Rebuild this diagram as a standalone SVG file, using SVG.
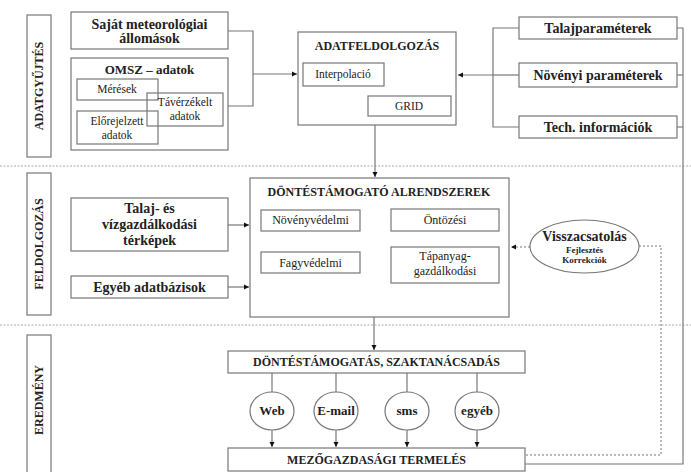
<svg xmlns="http://www.w3.org/2000/svg" width="691" height="472" viewBox="0 0 691 472">
<style>
.box{fill:#fff;stroke:#777;stroke-width:1.2}
.ln{fill:none;stroke:#777;stroke-width:1.2}
.dl{fill:none;stroke:#777;stroke-width:1;stroke-dasharray:2,2}
.sep{fill:none;stroke:#aaa;stroke-width:1;stroke-dasharray:2,1.5}
.t{font-family:"Liberation Serif","DejaVu Serif",serif;font-weight:bold;fill:#222;text-anchor:middle}
.b14{font-size:14px}
.b13{font-size:13px}
.b12{font-size:12px}
.s10{font-family:"Liberation Serif","DejaVu Serif",serif;font-size:11.5px;fill:#222;text-anchor:middle}
.s11{font-family:"Liberation Serif","DejaVu Serif",serif;font-size:12px;fill:#222;text-anchor:middle}
</style>
<defs>
<marker id="ah" markerWidth="6" markerHeight="6" refX="5" refY="3" orient="auto" markerUnits="userSpaceOnUse">
<path d="M0,0.5 L5,3 L0,5.5 Z" fill="#111"/>
</marker>
</defs>
<rect width="691" height="472" fill="#fff"/>

<g id="separators">
<line class="sep" x1="0" y1="166" x2="691" y2="166"/>
<line class="sep" x1="0" y1="325" x2="691" y2="325"/>
</g>

<g id="side-adatgyujtes">
<rect class="box" x="27" y="15" width="24" height="142"/>
<text class="t b12" transform="translate(43,86) rotate(-90)">ADATGYŰJTÉS</text>
</g>
<g id="side-feldolgozas">
<rect class="box" x="27" y="173" width="24" height="142"/>
<text class="t b12" transform="translate(43,244) rotate(-90)">FELDOLGOZÁS</text>
</g>
<g id="side-eredmeny">
<rect class="box" x="27" y="335" width="24" height="145"/>
<text class="t b12" transform="translate(43,400) rotate(-90)">EREDMÉNY</text>
</g>

<g id="connectors">
<polyline class="ln" points="228,31 253,31 253,106 228,106"/>
<line class="ln" x1="253" y1="74" x2="297" y2="74" marker-end="url(#ah)"/>
<polyline class="ln" points="519,28 493,28 493,127 519,127"/>
<line class="ln" x1="493" y1="75" x2="519" y2="75"/>
<line class="ln" x1="493" y1="75" x2="458" y2="75" marker-end="url(#ah)"/>
<polyline class="ln" points="677,28 683,28 683,464 525,464"/>
<line class="ln" x1="677" y1="75" x2="683" y2="75"/>
<line class="ln" x1="677" y1="127" x2="683" y2="127"/>
<line class="ln" x1="375" y1="125" x2="375" y2="177" marker-end="url(#ah)"/>
<line class="ln" x1="228" y1="225" x2="249" y2="225" marker-end="url(#ah)"/>
<line class="ln" x1="228" y1="287" x2="249" y2="287" marker-end="url(#ah)"/>
<line class="dl" x1="530" y1="247" x2="511" y2="247" marker-end="url(#ah)"/>
<polyline class="dl" points="639,246 661,246 661,455 525,455"/>
<line class="ln" x1="374" y1="317" x2="374" y2="350" marker-end="url(#ah)"/>
<line class="ln" x1="272" y1="373" x2="272" y2="392"/>
<line class="ln" x1="336" y1="373" x2="336" y2="392"/>
<line class="ln" x1="407" y1="373" x2="407" y2="392"/>
<line class="ln" x1="477" y1="373" x2="477" y2="392"/>
<line class="ln" x1="272" y1="430" x2="272" y2="447" marker-end="url(#ah)"/>
<line class="ln" x1="336" y1="430" x2="336" y2="447" marker-end="url(#ah)"/>
<line class="ln" x1="407" y1="430" x2="407" y2="447" marker-end="url(#ah)"/>
<line class="ln" x1="477" y1="430" x2="477" y2="447" marker-end="url(#ah)"/>
</g>

<g id="sajat">
<rect class="box" x="71" y="12" width="157" height="37"/>
<text class="t b14" x="149.5" y="29">Saját meteorológiai</text>
<text class="t b14" x="149.5" y="43">állomások</text>
</g>

<g id="omsz">
<rect class="box" x="71" y="58" width="157" height="92"/>
<text class="t b13" x="149.5" y="74">OMSZ – adatok</text>
</g>
<g id="meresek">
<rect class="box" x="77" y="79" width="81" height="21"/>
<text class="s10" x="117" y="93">Mérések</text>
</g>
<g id="elorejelzett">
<rect class="box" x="77" y="111" width="81" height="33"/>
<text class="s10" x="117" y="125">Előrejelzett</text>
<text class="s10" x="117" y="139">adatok</text>
</g>
<g id="taverzekelt">
<rect class="box" x="147" y="93" width="76" height="33" style="fill:none"/>
<text class="s10" x="185" y="106">Távérzékelt</text>
<text class="s10" x="185" y="120">adatok</text>
</g>

<g id="adatfeldolgozas">
<rect class="box" x="298" y="32" width="158" height="93"/>
<text class="t b12" x="377" y="50">ADATFELDOLGOZÁS</text>
</g>
<g id="interpolacio">
<rect class="box" x="303" y="63" width="81" height="23"/>
<text class="s10" x="343" y="78">Interpolació</text>
</g>
<g id="grid">
<rect class="box" x="368" y="96" width="83" height="20"/>
<text class="s10" x="409" y="110">GRID</text>
</g>

<g id="talajparameterek">
<rect class="box" x="519" y="17" width="158" height="22"/>
<text class="t b14" x="598" y="33">Talajparaméterek</text>
</g>
<g id="novenyi">
<rect class="box" x="519" y="63" width="158" height="24"/>
<text class="t b14" x="598" y="80">Növényi paraméterek</text>
</g>
<g id="tech">
<rect class="box" x="519" y="116" width="158" height="22"/>
<text class="t b14" x="598" y="132">Tech. információk</text>
</g>

<g id="talaj-viz">
<rect class="box" x="71" y="198" width="157" height="53"/>
<text class="t b14" x="149.5" y="213">Talaj- és</text>
<text class="t b14" x="149.5" y="229">vízgazdálkodási</text>
<text class="t b14" x="149.5" y="245">térképek</text>
</g>
<g id="egyeb-adatbazisok">
<rect class="box" x="71" y="276" width="157" height="22"/>
<text class="t b14" x="149.5" y="292">Egyéb adatbázisok</text>
</g>

<g id="dontestamogato">
<rect class="box" x="250" y="178" width="259" height="139"/>
<text class="t b12" x="379" y="196">DÖNTÉSTÁMOGATÓ ALRENDSZEREK</text>
</g>
<g id="novenyvedelmi">
<rect class="box" x="261" y="210" width="99" height="21"/>
<text class="s11" x="310.5" y="224">Növényvédelmi</text>
</g>
<g id="ontozesi">
<rect class="box" x="391" y="209" width="108" height="22"/>
<text class="s11" x="445" y="224">Öntözési</text>
</g>
<g id="fagyvedelmi">
<rect class="box" x="261" y="252" width="99" height="21"/>
<text class="s11" x="310.5" y="267">Fagyvédelmi</text>
</g>
<g id="tapanyag">
<rect class="box" x="391" y="247" width="108" height="36"/>
<text class="s11" x="445" y="260">Tápanyag-</text>
<text class="s11" x="445" y="275">gazdálkodási</text>
</g>

<g id="visszacsatolas">
<ellipse class="box" cx="584.5" cy="246.5" rx="54.5" ry="26.5"/>
<text class="t" style="font-size:14px" x="584.5" y="241">Visszacsatolás</text>
<text class="t" style="font-size:9px" x="584.5" y="253">Fejlesztés</text>
<text class="t" style="font-size:9px" x="584.5" y="263">Korrekciók</text>
</g>

<g id="szaktanacsadas">
<rect class="box" x="228" y="351" width="297" height="22"/>
<text class="t b12" x="376.5" y="366">DÖNTÉSTÁMOGATÁS, SZAKTANÁCSADÁS</text>
</g>
<g id="web">
<ellipse class="box" cx="272" cy="411" rx="22" ry="19"/>
<text class="t b13" x="272" y="415">Web</text>
</g>
<g id="email">
<ellipse class="box" cx="336" cy="411" rx="22" ry="19"/>
<text class="t b13" x="336" y="415">E-mail</text>
</g>
<g id="sms">
<ellipse class="box" cx="407" cy="411" rx="22" ry="19"/>
<text class="t b13" x="407" y="415">sms</text>
</g>
<g id="egyeb">
<ellipse class="box" cx="477" cy="411" rx="22" ry="19"/>
<text class="t b13" x="477" y="415">egyéb</text>
</g>

<g id="mezogazdasagi">
<rect class="box" x="228" y="448" width="297" height="23"/>
<text class="t b12" x="376.5" y="464">MEZŐGAZDASÁGI TERMELÉS</text>
</g>
</svg>
